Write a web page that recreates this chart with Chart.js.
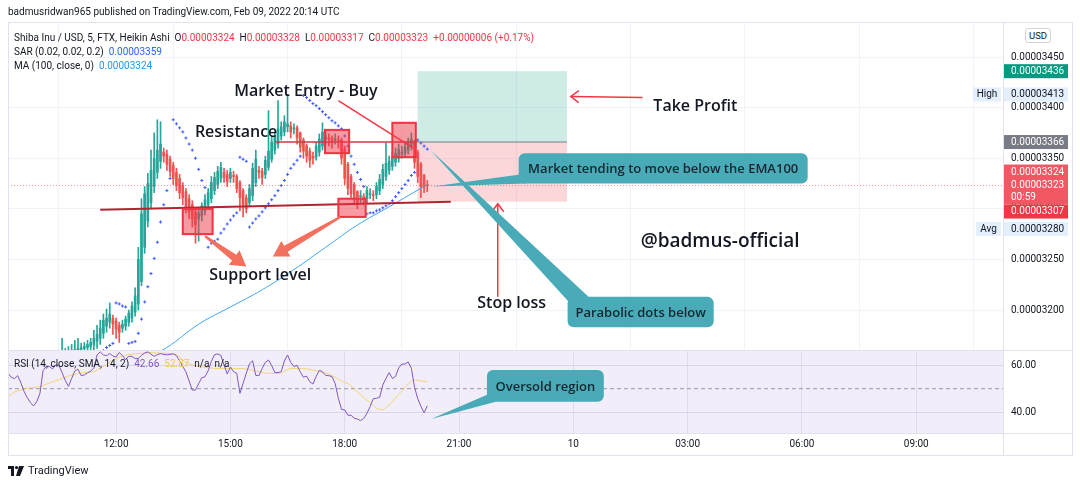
<!DOCTYPE html>
<html>
<head>
<meta charset="utf-8">
<title>Shiba Inu / USD, 5, FTX, Heikin Ashi</title>
<script src="https://cdn.jsdelivr.net/npm/chart.js@4.4.1/dist/chart.umd.min.js"></script>
<style>
html, body { margin: 0; padding: 0; background: #fff; }
body { position: relative; width: 1080px; height: 486px; overflow: hidden; font-family: Roboto, "Liberation Sans", Arial, sans-serif; color: #131722; }
canvas { position: absolute; left: 0; top: 0; }
.abs { position: absolute; white-space: nowrap; }
.ln { position: absolute; background: #e0e3eb; }
#head { left: 8px; top: 6px; font-size: 10px; }
#legend { left: 14px; top: 31px; font-size: 10px; line-height: 14px; }
#rsiLegend { left: 14px; top: 358px; font-size: 10px; }
.red { color: #f23645; }
.blue { color: #2962ff; }
.lblue { color: #2196f3; }
.purple { color: #7e57c2; }
.yellow { color: #f2c94c; }
#usd { left: 1025px; top: 28px; font-size: 9.5px; border: 1px solid #d1d4dc; border-radius: 3px; padding: 1px 3px; background: #fff; }
#foot { left: 8px; top: 464px; font-size: 11px; display: flex; align-items: center; gap: 4px; }
</style>
</head>
<body>
<canvas id="main" width="1080" height="486"></canvas>
<canvas id="osc" width="1080" height="486"></canvas>

<div class="ln" style="left:8px;top:22px;width:1065px;height:1px"></div>
<div class="ln" style="left:8px;top:455px;width:1065px;height:1px"></div>
<div class="ln" style="left:8px;top:22px;width:1px;height:434px"></div>
<div class="ln" style="left:1072px;top:22px;width:1px;height:434px"></div>
<div class="ln" style="left:1003px;top:22px;width:1px;height:434px"></div>
<div class="ln" style="left:8px;top:350px;width:1065px;height:1px"></div>
<div class="ln" style="left:8px;top:433px;width:1065px;height:1px"></div>

<div id="head" class="abs">badmusridwan965 published on TradingView.com, Feb 09, 2022 20:14 UTC</div>
<div id="legend" class="abs">
  <div>Shiba Inu / USD, 5, FTX, Heikin Ashi&nbsp; O<span class="red">0.00003324</span>&nbsp; H<span class="red">0.00003328</span>&nbsp; L<span class="red">0.00003317</span>&nbsp; C<span class="red">0.00003323</span>&nbsp; <span class="red">+0.00000006 (+0.17%)</span></div>
  <div>SAR (0.02, 0.02, 0.2)&nbsp; <span class="blue">0.00003359</span></div>
  <div>MA (100, close, 0)&nbsp; <span class="lblue">0.00003324</span></div>
</div>
<div id="rsiLegend" class="abs">RSI (14, close, SMA, 14, 2)&nbsp; <span class="purple">42.66</span>&nbsp; <span class="yellow">52.87</span>&nbsp; n/a&nbsp; n/a</div>
<div id="usd" class="abs">USD</div>
<div id="foot" class="abs">
  <svg width="16" height="10" viewBox="0 0 16 10"><rect x="0" y="0" width="6" height="3" fill="#131722"/><rect x="3" y="0" width="3" height="10" fill="#131722"/><circle cx="8.5" cy="1.6" r="1.6" fill="#131722"/><polygon points="11,0 16,0 12,10 8,10" fill="#131722"/></svg>
  <span>TradingView</span>
</div>

<script>
// prices are in units of 0.00000001 USD (3324 = 0.00003324)
// time is in minutes after Feb 09 00:00 (UTC)
const candleStart = 620;   // first visible candle 10:20
const barMinutes = 5;

const opens = [3146,3148,3150,3152,3154,3156,3157,3158,3160,3161,
  3162,3163,3164,3166,3169,3172,3177,3184,3188,3192,
  3189,3185,3182,3184,3188,3192,3198,3206,3228,3262,
  3288,3306,3322,3336,3347,3356,3354,3349,3343,3336,
  3330,3323,3317,3310,3304,3297,3290,3293,3298,3304,
  3310,3318,3324,3330,3336,3334,3330,3333,3332,3326,
  3318,3311,3306,3313,3326,3338,3337,3334,3341,3349,
  3358,3364,3372,3376,3381,3382,3379,3380,3375,3368,
  3362,3357,3352,3351,3356,3362,3369,3370,3370,3368,
  3368,3368,3359,3344,3332,3324,3317,3312,3312,3310,
  3314,3314,3314,3318,3324,3332,3338,3342,3346,3350,
  3354,3355,3358,3362,3366,3356,3344,3333,3324];
const highs = [3156,3158,3160,3172,3162,3164,3166,3170,3172,3167,
  3168,3170,3172,3180,3185,3190,3196,3201,3207,3195,
  3192,3188,3190,3194,3200,3208,3222,3262,3310,3322,
  3335,3358,3375,3388,3386,3360,3358,3352,3346,3340,
  3334,3326,3320,3314,3308,3300,3300,3306,3314,3320,
  3332,3336,3342,3346,3340,3338,3340,3337,3334,3328,
  3320,3314,3324,3345,3358,3342,3340,3352,3397,3372,
  3376,3407,3386,3392,3413,3386,3384,3382,3376,3370,
  3364,3360,3356,3366,3374,3385,3376,3374,3372,3374,
  3372,3370,3362,3346,3334,3326,3318,3318,3315,3322,
  3320,3318,3326,3334,3344,3365,3352,3356,3360,3364,
  3362,3366,3370,3375,3368,3358,3346,3334,3328];
const lows = [3140,3142,3144,3146,3148,3150,3151,3152,3154,3156,
  3157,3158,3159,3160,3162,3166,3172,3178,3182,3176,
  3172,3168,3178,3180,3184,3188,3194,3200,3224,3256,
  3282,3300,3316,3330,3340,3346,3338,3332,3324,3318,
  3310,3304,3296,3290,3282,3266,3268,3288,3294,3300,
  3306,3314,3320,3326,3326,3322,3326,3326,3316,3298,
  3292,3296,3302,3308,3322,3330,3324,3330,3338,3346,
  3354,3360,3368,3372,3376,3370,3374,3364,3356,3350,
  3346,3341,3344,3348,3352,3358,3364,3362,3360,3364,
  3360,3344,3324,3314,3310,3304,3300,3306,3304,3306,
  3310,3308,3310,3314,3320,3328,3334,3338,3342,3346,
  3350,3352,3354,3358,3340,3326,3311,3316,3317];
const closes = [3150,3152,3154,3155,3157,3158,3160,3161,3162,3163,
  3164,3166,3168,3172,3176,3182,3190,3192,3196,3186,
  3181,3178,3186,3191,3197,3204,3214,3250,3295,3315,
  3325,3338,3350,3358,3364,3352,3344,3337,3330,3323,
  3316,3311,3302,3297,3290,3284,3296,3303,3309,3316,
  3326,3331,3337,3341,3331,3327,3336,3332,3320,3311,
  3304,3300,3320,3340,3349,3336,3331,3348,3357,3366,
  3371,3379,3381,3386,3384,3376,3380,3370,3361,3357,
  3352,3348,3350,3362,3369,3376,3371,3369,3366,3369,
  3367,3350,3330,3320,3315,3310,3306,3313,3309,3318,
  3315,3313,3322,3329,3339,3345,3347,3351,3355,3359,
  3356,3361,3366,3369,3346,3332,3322,3321,3323];
// Parabolic SAR, one value per candle
const sar = [null,null,null,null,null,null,null,null,null,null,
  null,null,null,null,3155,3157,3160,3163,3165,3167,
  3207,3206,3204,3203,3167,3168,3169,3177,3191,3208,
  3223,3236,3251,3267,3287,3304,3318,3330,3388,3384,
  3380,3376,3370,3364,3358,3350,3339,3328,3321,3262,
  3266,3268,3270,3276,3280,3285,3289,3293,3296,3351,
  3349,3347,3282,3286,3290,3293,3297,3301,3305,3309,
  3313,3318,3323,3328,3334,3340,3344,3348,3352,3412,
  3410,3407,3404,3402,3399,3396,3393,3390,3387,3385,
  3382,3379,3372,3362,3352,3344,3336,3329,3322,3295,
  3296,3296,3298,3299,3301,3303,3305,3308,3312,3316,
  3320,3324,3328,3333,3336,3368,3365,3362,3359];
// MA(100) read at a few times
const maTimes = [760, 800, 850, 900, 950, 1000, 1050, 1100, 1150, 1180, 1210];
const maValues = [3150, 3163, 3186, 3203, 3220, 3240, 3262, 3284, 3302, 3313, 3324];

// RSI pane, one value per 5 minutes from 09:10
const rsiStart = 550;
const rsi = [56.6,54.9,54.3,55.6,52.6,48.9,46.2,44.1,42.6,44.4,
  47.9,57.7,59.6,59.5,58.5,60.3,59.9,56.9,53.5,51.0,
  54.4,57.6,58.4,55.6,55.9,56.8,57.5,58.9,64.5,65.8,
  64.5,64.2,65.1,64.0,63.6,65.5,64.2,62.5,63.9,63.9,
  62.9,63.0,64.3,65.3,65.8,64.8,63.9,64.6,65.1,64.7,
  64.5,64.7,65.0,64.2,61.9,59.5,57.2,53.3,49.4,49.4,
  52.2,54.7,55.1,57.7,61.7,64.6,64.9,64.3,60.1,56.3,
  59.3,57.3,56.6,48.0,52.3,56.6,60.6,62.0,55.7,55.6,
  58.7,61.3,62.3,59.9,56.9,56.9,57.3,61.9,64.5,61.3,
  59.5,60.0,57.2,54.9,55.4,53.0,52.0,55.2,57.9,57.3,
  55.7,55.6,55.2,52.2,45.9,41.1,40.9,38.6,38.6,37.3,
  37.0,36.3,37.3,39.4,42.3,45.7,45.9,46.3,51.6,54.4,
  56.9,54.4,55.2,58.9,60.6,60.6,61.5,58.7,50.6,45.7,
  42.4,39.7,42.66];
const rsiSma = [46.6,47.6,48.6,49.1,49.4,49.9,50.2,50.3,50.5,50.7,
  50.9,51.4,51.9,52.4,52.9,53.4,53.9,54.4,54.9,55.4,
  55.8,56.2,56.5,56.7,56.9,57.0,57.2,57.3,58.0,58.7,
  59.5,60.3,61.3,62.2,62.9,63.6,64.0,64.3,64.6,64.8,
  65.0,65.0,65.2,65.2,65.4,65.5,65.4,65.3,65.2,65.2,
  65.2,65.0,64.7,64.5,63.5,62.3,61.2,60.6,60.3,59.9,
  59.6,59.4,59.2,59.0,58.9,58.7,58.7,58.7,58.7,58.6,
  58.6,58.6,58.6,58.7,58.6,58.5,58.2,58.0,57.7,57.3,
  57.0,56.7,56.6,56.6,56.6,56.6,56.7,57.5,58.2,58.7,
  58.7,58.7,58.7,58.6,58.5,58.2,58.0,57.7,57.4,57.0,
  56.7,56.3,55.6,54.9,54.2,53.4,52.7,52.2,51.2,50.0,
  48.6,47.4,46.3,45.1,44.0,42.9,41.7,41.1,41.0,41.9,
  43.0,44.4,46.0,47.6,49.0,50.7,52.0,53.2,53.7,53.6,
  53.4,53.2,52.87];

const timeTicks = ['12:00', '15:00', '18:00', '21:00', '10', '03:00', '06:00', '09:00'];

const xMin = 549.8, xMax = 2116.6;
const upColor = '#26a69a', downColor = '#ef5350';
const fmt = v => (v / 1e8).toFixed(8);
const candleTimes = opens.map((_, i) => candleStart + i * barMinutes);
const rsiTimes = rsi.map((_, i) => rsiStart + i * barMinutes);
const candleColor = c => closes[c.dataIndex] >= opens[c.dataIndex] ? upColor : downColor;

const TXT = '#131722';
const SANS = '"Open Sans", Roboto, sans-serif';

function arrowHead(ctx, x1, y1, x2, y2, size) {
  const a = Math.atan2(y2 - y1, x2 - x1);
  ctx.beginPath();
  ctx.moveTo(x2 + size * Math.cos(a + 2.5), y2 + size * Math.sin(a + 2.5));
  ctx.lineTo(x2, y2);
  ctx.lineTo(x2 + size * Math.cos(a - 2.5), y2 + size * Math.sin(a - 2.5));
  ctx.stroke();
}

function fatArrow(ctx, x1, y1, x2, y2) {
  const len = Math.hypot(x2 - x1, y2 - y1);
  const ux = (x2 - x1) / len, uy = (y2 - y1) / len;
  const nx = -uy, ny = ux;
  const hl = 15, hw = 9;
  const bx = x2 - ux * hl, by = y2 - uy * hl;
  ctx.beginPath();
  ctx.moveTo(x1 + nx * 1.2, y1 + ny * 1.2);
  ctx.lineTo(bx + nx * 3.5, by + ny * 3.5);
  ctx.lineTo(bx + nx * hw, by + ny * hw);
  ctx.lineTo(x2, y2);
  ctx.lineTo(bx - nx * hw, by - ny * hw);
  ctx.lineTo(bx - nx * 3.5, by - ny * 3.5);
  ctx.lineTo(x1 - nx * 1.2, y1 - ny * 1.2);
  ctx.closePath();
  ctx.fill();
}

function callout(ctx, box, tip, base, text) {
  ctx.fillStyle = '#4aabb8';
  ctx.beginPath();
  ctx.moveTo(base[0][0], base[0][1]);
  ctx.lineTo(tip[0], tip[1]);
  ctx.lineTo(base[1][0], base[1][1]);
  ctx.closePath();
  ctx.fill();
  ctx.beginPath();
  ctx.roundRect(box[0], box[1], box[2] - box[0], box[3] - box[1], 6);
  ctx.fill();
  ctx.fillStyle = '#14262f';
  ctx.font = '600 13px ' + SANS;
  ctx.textAlign = 'center';
  ctx.textBaseline = 'middle';
  ctx.fillText(text, (box[0] + box[2]) / 2, (box[1] + box[3]) / 2 + 1);
}

// drawings on the price pane, anchored to time/price
const drawingsPlugin = {
  id: 'drawings',
  beforeDatasetsDraw(chart) {
    const {ctx, chartArea: a, scales: {x, y}} = chart;
    ctx.save();
    ctx.beginPath(); ctx.rect(a.left, a.top, a.width, a.height); ctx.clip();
    const l = x.getPixelForValue(1195), r = x.getPixelForValue(1430);
    ctx.fillStyle = 'rgba(8,153,129,0.2)';
    ctx.fillRect(l, y.getPixelForValue(3436), r - l, y.getPixelForValue(3366) - y.getPixelForValue(3436));
    ctx.fillStyle = 'rgba(242,54,69,0.2)';
    ctx.fillRect(l, y.getPixelForValue(3366), r - l, y.getPixelForValue(3307) - y.getPixelForValue(3366));
    ctx.restore();
  },
  afterDatasetsDraw(chart) {
    const {ctx, chartArea: a, scales: {x, y}} = chart;
    const px = t => x.getPixelForValue(t), py = p => y.getPixelForValue(p);
    ctx.save();
    ctx.beginPath(); ctx.rect(a.left, a.top, a.width, a.height); ctx.clip();

    // last price dotted line
    ctx.strokeStyle = 'rgba(242,54,69,0.55)';
    ctx.setLineDash([1, 2]);
    ctx.lineWidth = 1;
    ctx.beginPath(); ctx.moveTo(a.left, py(3323)); ctx.lineTo(a.right, py(3323)); ctx.stroke();
    ctx.setLineDash([]);

    // entry line of the position
    ctx.strokeStyle = '#787b86';
    ctx.beginPath(); ctx.moveTo(px(1195), py(3366)); ctx.lineTo(px(1430), py(3366)); ctx.stroke();

    // resistance and support lines
    ctx.strokeStyle = '#cf3a45';
    ctx.lineWidth = 1.5;
    ctx.beginPath(); ctx.moveTo(px(971), py(3366)); ctx.lineTo(px(1195), py(3366)); ctx.stroke();
    ctx.strokeStyle = '#b0262f';
    ctx.lineWidth = 2;
    ctx.beginPath(); ctx.moveTo(px(695), py(3299)); ctx.lineTo(px(1247), py(3307)); ctx.stroke();

    // marked zones
    const boxes = [[825, 872, 3275, 3300], [1070, 1113, 3292, 3310], [1049, 1087, 3355, 3378], [1155, 1192, 3351, 3385]];
    boxes.forEach(b => {
      const x0 = px(b[0]), x1 = px(b[1]), y0 = py(b[3]), y1 = py(b[2]);
      ctx.fillStyle = 'rgba(242,54,69,0.5)';
      ctx.fillRect(x0, y0, x1 - x0, y1 - y0);
      ctx.strokeStyle = '#ee3342';
      ctx.lineWidth = 2;
      ctx.strokeRect(x0, y0, x1 - x0, y1 - y0);
    });

    // entry pointer line
    ctx.strokeStyle = '#f23645';
    ctx.lineWidth = 1.5;
    ctx.beginPath(); ctx.moveTo(px(1070), py(3407)); ctx.lineTo(px(1188), py(3360)); ctx.stroke();

    // take profit and stop loss arrows
    ctx.beginPath(); ctx.moveTo(px(1549), py(3410)); ctx.lineTo(px(1436), py(3411)); ctx.stroke();
    arrowHead(ctx, px(1549), py(3410), px(1436), py(3411), 10);
    ctx.beginPath(); ctx.moveTo(px(1321), py(3213)); ctx.lineTo(px(1321), py(3305)); ctx.stroke();
    arrowHead(ctx, px(1321), py(3213), px(1321), py(3305), 10);

    // support arrows
    ctx.fillStyle = '#f2705d';
    fatArrow(ctx, px(860), py(3273), px(925), py(3243));
    fatArrow(ctx, px(1073), py(3292), px(967), py(3253));

    // callouts
    callout(ctx, [px(1354), py(3355), px(1809), py(3325)], [px(1218), py(3322)],
      [[px(1356), py(3334)], [px(1366), py(3325)]], 'Market tending to move below the EMA100');
    callout(ctx, [px(1431), py(3213), px(1661), py(3183)], [px(1215), py(3358)],
      [[px(1433), py(3208)], [px(1464), py(3213)]], 'Parabolic dots below');

    // labels
    ctx.fillStyle = TXT;
    ctx.textBaseline = 'middle';
    ctx.font = '600 16px ' + SANS;
    ctx.textAlign = 'center';
    ctx.fillText('Market Entry - Buy', px(1019), py(3416));
    ctx.fillText('Resistance', px(909), py(3375));
    ctx.fillText('Support level', px(947), py(3234));
    ctx.fillText('Stop loss', px(1343), py(3207));
    ctx.textAlign = 'left';
    ctx.fillText('Take Profit', px(1566), py(3401));
    ctx.font = '600 19px ' + SANS;
    ctx.fillText('@badmus-official', px(1546), py(3268));
    ctx.restore();
  },
  afterDraw(chart) {
    const {ctx, chartArea: a, scales: {y}} = chart;
    const py = p => y.getPixelForValue(p);
    const ax = a.right, w = 65;
    ctx.save();
    ctx.font = '10px Roboto, sans-serif';
    ctx.textBaseline = 'middle';
    const tag = (x0, yc, wd, bg, fg, text, align) => {
      ctx.fillStyle = bg;
      ctx.fillRect(x0, yc - 7, wd, 14);
      ctx.fillStyle = fg;
      ctx.textAlign = align || 'left';
      ctx.fillText(text, align === 'center' ? x0 + wd / 2 : x0 + 8, yc);
    };
    tag(ax, py(3436), w, '#089981', '#fff', fmt(3436));
    tag(973, py(3413), 28, '#e3effd', TXT, 'High', 'center');
    tag(ax, py(3413), w, '#e3effd', TXT, fmt(3413));
    tag(ax, py(3366), w, '#787b86', '#fff', fmt(3366));
    const yl = py(3323);
    ctx.fillStyle = '#f25863';
    ctx.fillRect(ax, yl - 21, w, 40);
    ctx.fillStyle = '#fff';
    ctx.textAlign = 'left';
    ctx.fillText(fmt(3324), ax + 8, yl - 13);
    ctx.fillText(fmt(3323), ax + 8, yl);
    ctx.fillText('00:59', ax + 8, yl + 12);
    tag(ax, yl + 26, w, '#f23645', '#fff', fmt(3307));
    tag(976, py(3280), 25, '#e3effd', TXT, 'Avg', 'center');
    tag(ax, py(3280), w, '#e3effd', TXT, fmt(3280));
    ctx.restore();
  }
};

new Chart(document.getElementById('main'), {
  type: 'bar',
  data: {
    datasets: [
      {
        label: 'SAR',
        type: 'scatter',
        data: candleTimes.map((t, i) => ({x: t, y: sar[i]})),
        pointStyle: 'cross',
        pointRadius: 1.5,
        borderColor: '#3d5afe',
        borderWidth: 1,
        order: 0
      },
      {
        label: 'MA',
        type: 'line',
        data: maTimes.map((t, i) => ({x: t, y: maValues[i]})),
        borderColor: '#42a5f5',
        borderWidth: 1,
        pointRadius: 0,
        tension: 0.4,
        order: 1
      },
      {
        label: 'bodies',
        data: candleTimes.map((t, i) => ({x: t, y: [opens[i], closes[i]]})),
        backgroundColor: candleColor,
        barThickness: 2,
        minBarLength: 1,
        grouped: false,
        order: 2
      },
      {
        label: 'wicks',
        data: candleTimes.map((t, i) => ({x: t, y: [lows[i], highs[i]]})),
        backgroundColor: candleColor,
        barThickness: 1,
        grouped: false,
        order: 3
      }
    ]
  },
  options: {
    responsive: false,
    animation: false,
    events: [],
    layout: {padding: {left: 8, top: 22, right: 7, bottom: 136}},
    plugins: {legend: {display: false}, tooltip: {enabled: false}},
    scales: {
      x: {
        type: 'linear', min: xMin, max: xMax, offset: false,
        ticks: {display: false, stepSize: 180, includeBounds: false},
        grid: {color: '#f0f3fa', drawTicks: false},
        border: {display: false},
        afterFit: s => { s.height = 0; }
      },
      y: {
        position: 'right', min: 3160.5, max: 3484.6,
        ticks: {stepSize: 50, includeBounds: false, padding: 8, color: TXT, font: {size: 10, family: 'Roboto'}, callback: v => fmt(v)},
        grid: {color: '#f0f3fa', drawTicks: false},
        border: {display: false},
        afterFit: s => { s.width = 70; }
      }
    }
  },
  plugins: [drawingsPlugin]
});

// RSI pane
const rsiPlugin = {
  id: 'rsiBand',
  beforeDatasetsDraw(chart) {
    const {ctx, chartArea: a, scales: {y}} = chart;
    ctx.save();
    ctx.beginPath(); ctx.rect(a.left, a.top, a.width, a.height); ctx.clip();
    ctx.fillStyle = 'rgba(126,87,194,0.1)';
    ctx.fillRect(a.left, y.getPixelForValue(70), a.width, y.getPixelForValue(30) - y.getPixelForValue(70));
    ctx.strokeStyle = '#9598a1';
    ctx.setLineDash([4, 3]);
    ctx.lineWidth = 1;
    ctx.beginPath(); ctx.moveTo(a.left, y.getPixelForValue(50)); ctx.lineTo(a.right, y.getPixelForValue(50)); ctx.stroke();
    ctx.restore();
  },
  afterDatasetsDraw(chart) {
    const {ctx, chartArea: a, scales: {x, y}} = chart;
    const px = t => x.getPixelForValue(t), py = v => y.getPixelForValue(v);
    ctx.save();
    ctx.beginPath(); ctx.rect(a.left, a.top, a.width, a.height); ctx.clip();
    callout(ctx, [px(1304), py(58.0), px(1488), py(44.4)], [px(1216), py(37.0)],
      [[px(1305), py(47.5)], [px(1318), py(44.4)]], 'Oversold region');
    ctx.restore();
  }
};

new Chart(document.getElementById('osc'), {
  type: 'line',
  data: {
    datasets: [
      {
        label: 'RSI',
        data: rsiTimes.map((t, i) => ({x: t, y: rsi[i]})),
        borderColor: '#7e57c2',
        borderWidth: 1,
        pointRadius: 0,
        tension: 0
      },
      {
        label: 'RSI SMA',
        data: rsiTimes.map((t, i) => ({x: t, y: rsiSma[i]})),
        borderColor: 'rgba(242,201,76,0.75)',
        borderWidth: 1,
        pointRadius: 0,
        tension: 0.3
      }
    ]
  },
  options: {
    responsive: false,
    animation: false,
    events: [],
    layout: {padding: {left: 8, top: 350, right: 7, bottom: 30}},
    plugins: {legend: {display: false}, tooltip: {enabled: false}},
    scales: {
      x: {
        type: 'linear', min: xMin, max: xMax,
        ticks: {stepSize: 180, includeBounds: false, maxRotation: 0, autoSkip: false, padding: 5, color: TXT, font: {size: 10, family: 'Roboto'},
          callback: v => timeTicks[Math.round((v - 720) / 180)]},
        grid: {color: '#ece9f3', drawTicks: false},
        border: {display: false},
        afterFit: s => { s.height = 23; }
      },
      y: {
        position: 'right', min: 31, max: 66.6,
        ticks: {stepSize: 20, includeBounds: false, padding: 8, color: TXT, font: {size: 10, family: 'Roboto'}, callback: v => v.toFixed(2)},
        grid: {color: '#e6e1f0', drawTicks: false},
        border: {display: false},
        afterFit: s => { s.width = 70; }
      }
    }
  },
  plugins: [rsiPlugin]
});
</script>
</body>
</html>
